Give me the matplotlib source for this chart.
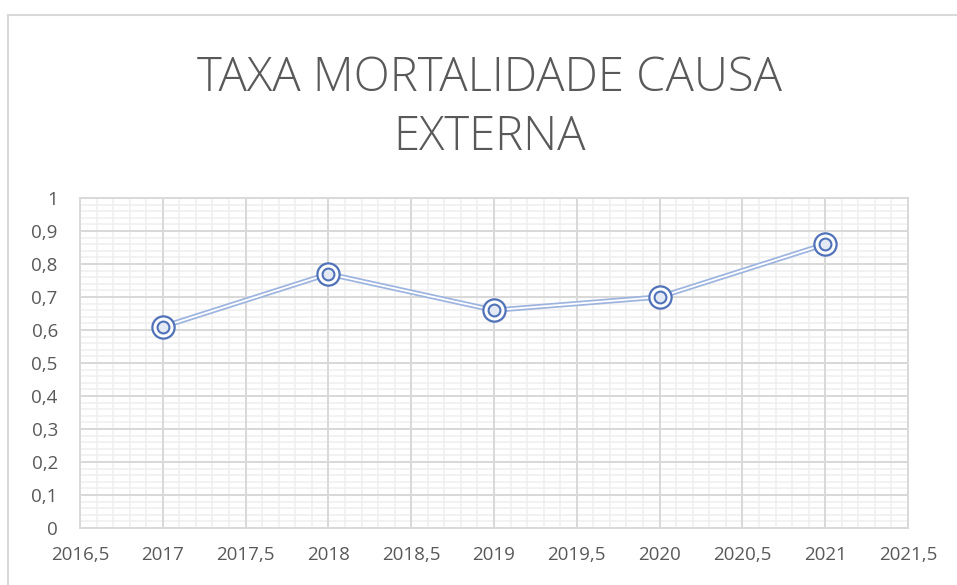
"""Excel-style line chart: TAXA MORTALIDADE CAUSA EXTERNA, 2017-2021."""

import matplotlib

matplotlib.use("Agg")
import matplotlib.pyplot as plt
from matplotlib.patches import Rectangle
from matplotlib.ticker import FuncFormatter, MultipleLocator, NullFormatter

YEARS = [2017, 2018, 2019, 2020, 2021]
RATES = [0.61, 0.77, 0.66, 0.70, 0.86]
TITLE = "TAXA MORTALIDADE CAUSA\nEXTERNA"

TEXT = "#595959"
LINE = "#9db4e0"
MARK = "#5072b8"
RECT = [80 / 957, 1 - 528 / 585, 828 / 957, 330 / 585]


def comma(value, _pos):
    text = f"{value:g}"
    return text.replace(".", ",")


def main():
    plt.rcParams["font.family"] = ["Open Sans", "DejaVu Sans"]
    fig = plt.figure(figsize=(9.57, 5.85), dpi=100)

    # chart frame
    fig.patches.append(
        Rectangle((8 / 957, -0.1), 1.2, 1 - 15 / 585 + 0.1,
                  transform=fig.transFigure, fill=False,
                  edgecolor="#d9d9d9", linewidth=1.5)
    )

    # minor grid on a back layer so the major lines stay unbroken
    back = fig.add_axes(RECT, zorder=0)
    back.set_xlim(2016.5, 2021.5)
    back.set_ylim(0, 1)
    back.xaxis.set_major_locator(MultipleLocator(0.1))
    back.yaxis.set_major_locator(MultipleLocator(0.02))
    back.xaxis.set_major_formatter(NullFormatter())
    back.yaxis.set_major_formatter(NullFormatter())
    back.tick_params(length=0)
    back.grid(True, color="#efefef", linewidth=1.1)
    for spine in back.spines.values():
        spine.set_visible(False)

    ax = fig.add_axes(RECT, zorder=1)
    ax.patch.set_alpha(0)
    ax.set_xlim(2016.5, 2021.5)
    ax.set_ylim(0, 1)
    ax.xaxis.set_major_locator(MultipleLocator(0.5))
    ax.yaxis.set_major_locator(MultipleLocator(0.1))
    ax.xaxis.set_major_formatter(FuncFormatter(comma))
    ax.yaxis.set_major_formatter(FuncFormatter(comma))

    ax.grid(True, which="major", color="#d9d9d9", linewidth=1.4)
    ax.set_axisbelow(True)
    for spine in ax.spines.values():
        spine.set_color("#d9d9d9")
        spine.set_linewidth(1.4)

    ax.tick_params(which="both", length=0, labelsize=13.5, labelcolor=TEXT)
    ax.tick_params(axis="x", pad=13)
    ax.tick_params(axis="y", pad=16)

    # compound (double) line
    ax.plot(YEARS, RATES, color=LINE, linewidth=3.8, zorder=3)
    ax.plot(YEARS, RATES, color="white", linewidth=1.3, zorder=4)
    ax.plot(YEARS, RATES, linestyle="none", marker="o", markersize=16,
            markerfacecolor="white", markeredgecolor=MARK,
            markeredgewidth=1.6, zorder=5)
    ax.plot(YEARS, RATES, linestyle="none", marker="o", markersize=8.5,
            markerfacecolor="#e3eaf6", markeredgecolor=MARK,
            markeredgewidth=1.5, zorder=6)

    fig.text(490 / 957, 1 - 108 / 585, TITLE, ha="center", va="center",
             fontsize=34, color=TEXT, fontweight="light", linespacing=1.3)

    fig.savefig("out.png", dpi=100)


if __name__ == "__main__":
    main()
